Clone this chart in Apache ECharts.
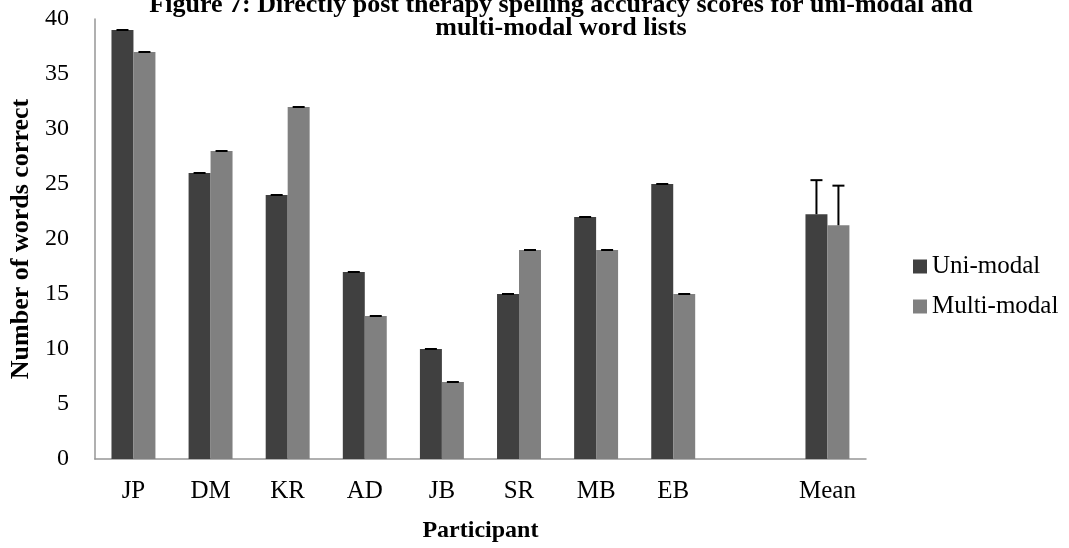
<!DOCTYPE html>
<html>
<head>
<meta charset="utf-8">
<script src="https://cdn.jsdelivr.net/npm/echarts@6/dist/echarts.min.js"></script>
<style>html,body{margin:0;padding:0;background:#fff;}#c{width:1069px;height:548px;}</style>
</head>
<body>
<div id="c"></div>
<script>
const categories = ['JP', 'DM', 'KR', 'AD', 'JB', 'SR', 'MB', 'EB', '', 'Mean'];
const uniModal = [39, 26, 24, 17, 10, 15, 22, 25, null, 22.25];
const multiModal = [37, 28, 32, 13, 7, 19, 19, 15, null, 21.25];
const uniError = [0, 0, 0, 0, 0, 0, 0, 0, null, 3.1];
const multiError = [0, 0, 0, 0, 0, 0, 0, 0, null, 3.6];
const seriesNames = ['Uni-modal', 'Multi-modal'];
const titleText = 'Figure 7: Directly post therapy spelling accuracy scores for uni-modal and\nmulti-modal word lists';

const FONT = '"Liberation Serif", "Times New Roman", serif';
const BAR_FRAC = 0.285;

function errData(vals, errs) {
  const out = [];
  vals.forEach((v, i) => { if (v != null) out.push([i, v, errs[i]]); });
  return out;
}

function errRender(sign) {
  return function (params, api) {
    const idx = api.value(0), v = api.value(1), e = api.value(2);
    const band = api.size([1, 0])[0];
    const off = sign * band * BAR_FRAC / 2;
    const base = api.coord([idx, v]);
    const top = api.coord([idx, v + e]);
    const x = base[0] + off;
    const children = [];
    if (e > 0) {
      children.push({ type: 'line', shape: { x1: x, y1: base[1], x2: x, y2: top[1] }, style: { stroke: '#000', lineWidth: 2 } });
    }
    children.push({ type: 'line', shape: { x1: x - 6, y1: top[1], x2: x + 6, y2: top[1] }, style: { stroke: '#000', lineWidth: 2 } });
    return { type: 'group', children: children };
  };
}

const chart = echarts.init(document.getElementById('c'), null, { renderer: 'canvas' });
chart.setOption({
  animation: false,
  backgroundColor: '#fff',
  title: {
    text: titleText,
    left: 561, top: -6, textAlign: 'center', padding: 0,
    textStyle: { fontFamily: FONT, fontWeight: 'bold', fontSize: 26, lineHeight: 23, color: '#000' }
  },
  legend: {
    data: seriesNames,
    orient: 'vertical',
    left: 908, top: 249,
    itemWidth: 14, itemHeight: 14, itemGap: 15,
    icon: 'rect',
    textStyle: { fontFamily: FONT, fontSize: 25, lineHeight: 25, color: '#000' }
  },
  grid: { left: 93, right: 203, top: 19, bottom: 89, containLabel: false },
  xAxis: {
    type: 'category',
    data: categories,
    name: 'Participant',
    nameLocation: 'middle',
    nameGap: 60,
    nameTextStyle: { fontFamily: FONT, fontWeight: 'bold', fontSize: 24, color: '#000' },
    axisLine: { lineStyle: { color: '#969696', width: 1.5 } },
    axisTick: { show: false },
    axisLabel: { fontFamily: FONT, fontSize: 25, color: '#000', margin: 20, interval: 0 }
  },
  yAxis: {
    type: 'value',
    min: 0, max: 40, interval: 5,
    name: 'Number of words correct',
    nameLocation: 'middle',
    nameGap: 53,
    nameTextStyle: { fontFamily: FONT, fontWeight: 'bold', fontSize: 26, color: '#000' },
    axisLine: { show: true, lineStyle: { color: '#969696', width: 1.5 } },
    axisTick: { show: false },
    splitLine: { show: false },
    axisLabel: { fontFamily: FONT, fontSize: 24, color: '#000', margin: 26 }
  },
  series: [
    { name: seriesNames[0], type: 'bar', data: uniModal, barWidth: (BAR_FRAC * 100) + '%', barGap: '0%', itemStyle: { color: '#404040' } },
    { name: seriesNames[1], type: 'bar', data: multiModal, barWidth: (BAR_FRAC * 100) + '%', barGap: '0%', itemStyle: { color: '#808080' } },
    { type: 'custom', data: errData(uniModal, uniError), renderItem: errRender(-1), encode: { x: 0, y: 1 }, z: 5, silent: true },
    { type: 'custom', data: errData(multiModal, multiError), renderItem: errRender(1), encode: { x: 0, y: 1 }, z: 5, silent: true }
  ]
});
</script>
</body>
</html>
